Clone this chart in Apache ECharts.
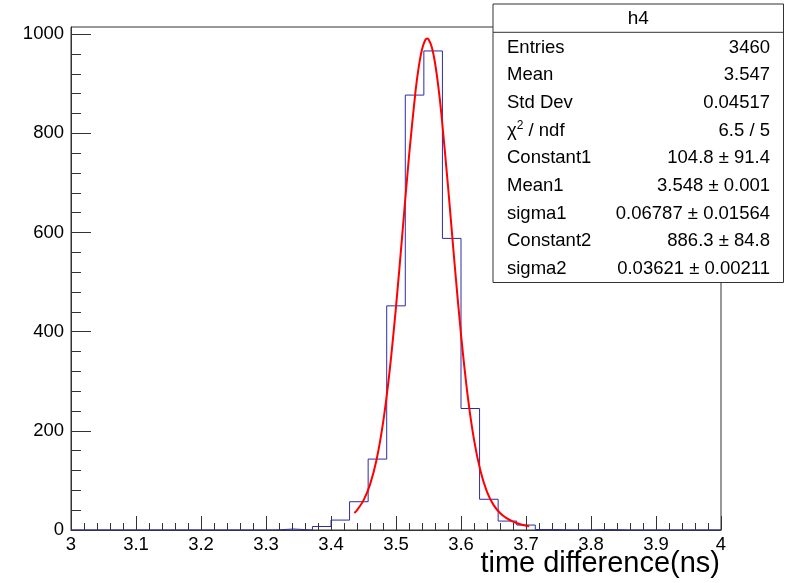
<!DOCTYPE html>
<html>
<head>
<meta charset="utf-8">
<script src="https://cdn.jsdelivr.net/npm/echarts@6/dist/echarts.min.js"></script>
<style>
  html, body { margin: 0; padding: 0; background: #fff; }
  #chart { width: 786px; height: 583px; }
</style>
</head>
<body>
<div id="chart"></div>
<script>
// histogram h4: 35 bins between 3 and 4 ns
const xMin = 3;
const xMax = 4;
const binCounts = [
  0, 0, 0, 0, 0, 0, 0, 0, 0, 0,
  0, 2, 0, 7, 20, 57, 143, 452, 877, 966,
  588, 245, 62, 18, 10, 1, 0, 0, 1, 0,
  0, 0, 0, 0, 0
];

// fitted double gaussian
const fitX = [3.436, 3.44, 3.45, 3.46, 3.47, 3.48, 3.49, 3.50, 3.51, 3.52, 3.53, 3.535, 3.54, 3.545, 3.548,
  3.55, 3.555, 3.56, 3.565, 3.57, 3.58, 3.59, 3.60, 3.61, 3.62, 3.63, 3.64, 3.65, 3.66, 3.67, 3.68, 3.69, 3.70, 3.705];
const fitY = [34.3, 39.9, 59.7, 91.5, 141.3, 215.5, 318.5, 449.8, 600.6, 753.5, 884.5, 933.9, 969.1, 988.0, 991.1,
  989.7, 974.1, 942.2, 895.5, 836.4, 693.6, 538.9, 394.3, 273.7, 182.4, 118.8, 77.0, 50.7, 34.3, 23.9, 17.0, 12.2, 8.7, 7.3];

const yMajorTicks = [0, 200, 400, 600, 800, 1000];
const yMinorTicks = [0, 40, 80, 120, 160, 200, 240, 280, 320, 360, 400, 440, 480, 520, 560, 600,
  640, 680, 720, 760, 800, 840, 880, 920, 960, 1000];

// stats box
const statsTitle = "h4";
const statLabels = ["Entries", "Mean", "Std Dev", "{n|χ}{s|2}{n| / ndf}", "Constant1", "Mean1", "sigma1", "Constant2", "sigma2"];
const statValues = ["3460", "3.547", "0.04517", "6.5 / 5", "104.8 ± 91.4", "3.548 ± 0.001",
  "0.06787 ± 0.01564", "886.3 ± 84.8", "0.03621 ± 0.00211"];

const xTitle = "time difference(ns)";

const FONT = '"Liberation Sans", Arial, Helvetica, sans-serif';
const LINE = '#333';

const binW = (xMax - xMin) / binCounts.length;
const histData = binCounts.map((v, i) => [xMin + i * binW, v]);
histData.push([xMax, binCounts[binCounts.length - 1]]);
const fitData = fitX.map((x, i) => [x, fitY[i]]);

const yMax = Math.max(...binCounts) * 1.05;

// stats box graphics
const boxL = 493, boxR = 783.5, boxT = 4, boxB = 282.5, headB = 32.3;
const statsEls = [
  {
    type: 'rect',
    shape: { x: boxL, y: boxT, width: boxR - boxL, height: boxB - boxT },
    style: { fill: '#fff', stroke: LINE, lineWidth: 1 },
    z: 100
  },
  {
    type: 'line',
    shape: { x1: boxL, y1: headB, x2: boxR, y2: headB },
    style: { stroke: LINE, lineWidth: 1 },
    z: 101
  },
  {
    type: 'text',
    x: (boxL + boxR) / 2, y: 18.5,
    style: { text: statsTitle, font: '19px ' + FONT, fill: '#000',
      align: 'center', verticalAlign: 'middle', textAlign: 'center', textVerticalAlign: 'middle' },
    z: 101
  }
];
statLabels.forEach((lab, i) => {
  const y = 47.5 + i * 27.7;
  statsEls.push({
    type: 'text',
    x: 507, y: y,
    style: {
      text: lab, font: '18.5px ' + FONT, fill: '#000',
      align: 'left', verticalAlign: 'middle', textAlign: 'left', textVerticalAlign: 'middle',
      rich: {
        n: { fontSize: 18.5, fontFamily: FONT, lineHeight: 22, fill: '#000' },
        s: { fontSize: 12, fontFamily: FONT, lineHeight: 12, verticalAlign: 'top', fill: '#000' }
      }
    },
    z: 101
  });
  statsEls.push({
    type: 'text',
    x: 770, y: y,
    style: { text: statValues[i], font: '18.5px ' + FONT, fill: '#000',
      align: 'right', verticalAlign: 'middle', textAlign: 'right', textVerticalAlign: 'middle' },
    z: 101
  });
});

const chart = echarts.init(document.getElementById('chart'), null, { renderer: 'canvas' });

const option = {
  animation: false,
  backgroundColor: '#fff',
  grid: {
    left: 71, right: 65, top: 27, bottom: 53,
    show: true, borderColor: LINE, borderWidth: 1, backgroundColor: 'transparent'
  },
  xAxis: {
    type: 'value',
    min: xMin, max: xMax, interval: 0.1,
    axisLine: { show: true, onZero: false, lineStyle: { color: LINE, width: 1 } },
    axisTick: { show: true, inside: true, length: 14, lineStyle: { color: LINE } },
    minorTick: { show: true, splitNumber: 5, length: 7, lineStyle: { color: LINE } },
    splitLine: { show: false },
    axisLabel: {
      margin: 5, color: '#000', fontSize: 18.5, fontFamily: FONT,
      formatter: v => String(+v.toFixed(1))
    }
  },
  yAxis: [
    {
      type: 'value',
      min: 0, max: yMax, interval: 200,
      axisLine: { show: true, lineStyle: { color: LINE, width: 1 } },
      axisTick: { show: true, inside: true, length: 20, customValues: yMajorTicks, lineStyle: { color: LINE } },
      splitLine: { show: false },
      axisLabel: {
        margin: 7, color: '#000', fontSize: 18.5, fontFamily: FONT,
        customValues: yMajorTicks,
        formatter: v => String(Math.round(v))
      }
    },
    {
      type: 'value',
      min: 0, max: yMax, interval: 40,
      position: 'left',
      axisLine: { show: false },
      axisTick: { show: true, inside: true, length: 10, customValues: yMinorTicks, lineStyle: { color: LINE } },
      splitLine: { show: false },
      axisLabel: { show: false }
    }
  ],
  series: [
    {
      name: 'h4',
      type: 'line',
      step: 'end',
      data: histData,
      symbol: 'none',
      lineStyle: { color: '#2c2ca6', width: 1 },
      z: 2
    },
    {
      name: 'fit',
      type: 'line',
      data: fitData,
      smooth: 0.3,
      symbol: 'none',
      lineStyle: { color: '#ff0000', width: 2 },
      z: 3
    }
  ],
  graphic: [
    {
      type: 'text',
      x: 720, y: 564,
      style: { text: xTitle, font: '29px ' + FONT, fill: '#000',
        align: 'right', verticalAlign: 'middle', textAlign: 'right', textVerticalAlign: 'middle' },
      z: 50
    }
  ].concat(statsEls)
};

chart.setOption(option);
</script>
</body>
</html>
